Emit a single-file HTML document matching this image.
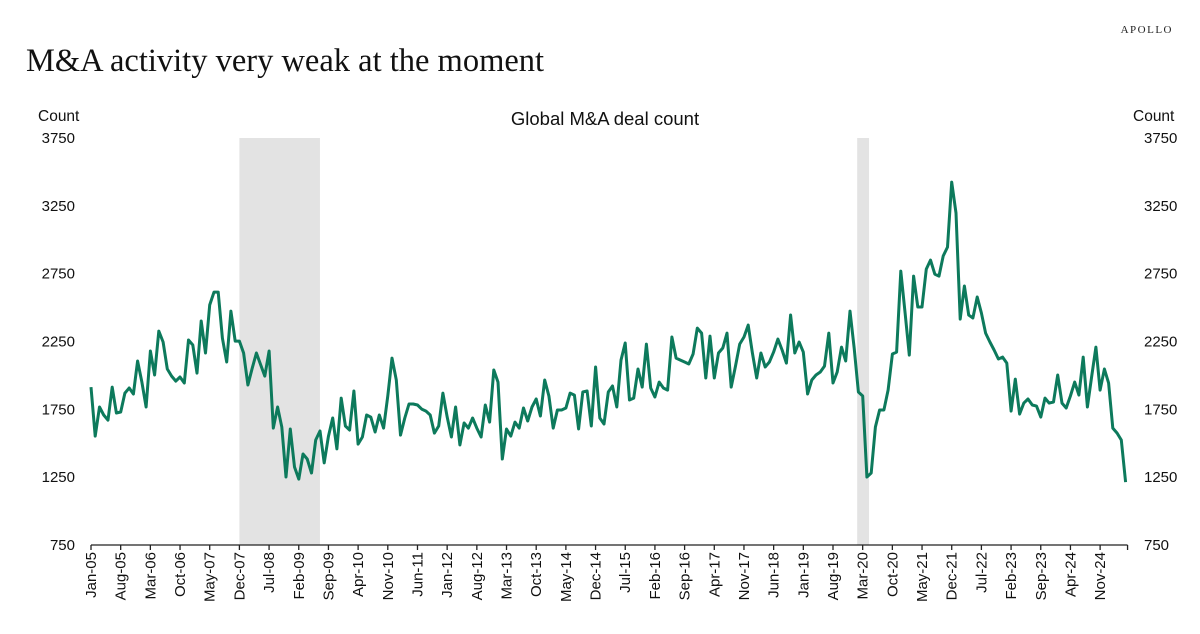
<!DOCTYPE html>
<html><head><meta charset="utf-8"><style>
body{margin:0;background:#fff;width:1200px;height:634px;overflow:hidden}
svg{display:block}
.sans{font-family:"Liberation Sans","DejaVu Sans",sans-serif}
.serif{font-family:"Liberation Serif",serif}
</style></head><body>
<svg id="chart" width="1200" height="634">
<text x="1173" y="33" text-anchor="end" class="serif" font-size="11" letter-spacing="1.5" fill="#222">APOLLO</text>
<text x="26" y="71" class="serif" font-size="32.5" fill="#111">M&amp;A activity very weak at the moment</text>
<text x="38" y="121" class="sans" font-size="15.5" fill="#111">Count</text>
<text x="1133" y="121" class="sans" font-size="15.5" fill="#111">Count</text>
<text x="605" y="125" text-anchor="middle" class="sans" font-size="18.5" fill="#111">Global M&amp;A deal count</text>
<g id="shade"></g><g id="yt"></g><g id="xt"></g><g id="ln"></g>
</svg>
<script>
const startLabel = "Jan-05";
const xTickLabels = ["Jan-05","Aug-05","Mar-06","Oct-06","May-07","Dec-07","Jul-08","Feb-09","Sep-09","Apr-10","Nov-10","Jun-11","Jan-12","Aug-12","Mar-13","Oct-13","May-14","Dec-14","Jul-15","Feb-16","Sep-16","Apr-17","Nov-17","Jun-18","Jan-19","Aug-19","Mar-20","Oct-20","May-21","Dec-21","Jul-22","Feb-23","Sep-23","Apr-24","Nov-24"];
const yTicks = [750,1250,1750,2250,2750,3250,3750];
const recessionStart = [35,180.7];
const recessionEnd = [54,183.5];
const dealCount = [
1914,1553,1767,1708,1671,1914,1723,1730,1870,1907,1863,2106,1950,1767,2180,2003,2327,2246,2047,1995,1958,1988,1944,2261,2224,2017,2401,2165,2519,2614,2614,2275,2099,2474,2253,2253,2165,1929,2050,2165,2080,1995,2180,1612,1767,1620,1251,1605,1325,1236,1421,1384,1281,1524,1590,1355,1550,1686,1458,1833,
1627,1597,1885,1494,1546,1708,1693,1583,1708,1612,1850,2128,1966,1560,1686,1789,1789,1782,1752,1737,1708,1575,1627,1870,1693,1546,1767,1487,1649,1612,1686,1612,1546,1782,1656,2040,1951,1384,1605,1553,1656,1612,1760,1664,1767,1826,1701,1966,1848,1612,1745,1745,1760,1870,1855,1605,1878,1885,
1627,2062,1686,1642,1878,1922,1767,2113,2239,1819,1833,2047,1914,2231,1907,1841,1951,1907,1892,2283,2128,2113,2099,2084,2158,2349,2312,1981,2290,1981,2165,2202,2312,1914,2069,2231,2283,2371,2165,1981,2165,2062,2099,2172,2268,2187,2091,2445,2165,2246,2172,1863,1966,2003,2025,2069,2312,1944,2025,2209,2106,2474,2200,1878,1848,
1251,1281,1620,1745,1745,1892,2158,2172,2769,2460,2150,2732,2504,2504,2784,2850,2747,2732,2880,2946,3425,3197,2415,2659,2445,2423,2578,2460,2312,2246,2187,2121,2135,2091,1737,1973,1715,1796,1826,1782,1774,1693,1833,1796,1804,2003,1796,1760,1848,1951,1855,2135,1767,1988,2209,1892,2047,1944,1612,1575,1524,1214];

const NS="http://www.w3.org/2000/svg";
const X0=91, DX=4.24, Y0=545, Y1=138;
const xs=m=>X0+m*DX;
const ys=v=>Y0-(v-750)/3000*(Y0-Y1);
function mk(t,a,p){const e=document.createElementNS(NS,t);for(const k in a)e.setAttribute(k,a[k]);p.appendChild(e);return e;}
const sh=document.getElementById('shade');
recessionStart.forEach((s,i)=>{
  const r=mk('rect',{x:xs(s),y:Y1,width:xs(recessionEnd[i])-xs(s),height:Y0-Y1,fill:'#e3e3e3'},sh);
  
  
});
const yt=document.getElementById('yt');
yTicks.forEach(v=>{
  const a=mk('text',{x:75,y:ys(v)+5,'text-anchor':'end','font-size':15,class:'sans',fill:'#111'},yt);a.textContent=v;
  
  
  const b=mk('text',{x:1144,y:ys(v)+5,'font-size':15,class:'sans',fill:'#111'},yt);b.textContent=v;
  
  
});
const xt=document.getElementById('xt');
const n=dealCount.length;
const ax=mk('line',{x1:X0,y1:Y0,x2:xs(n-1)+2,y2:Y0,stroke:'#222','stroke-width':1.3},xt);


xTickLabels.forEach((l,i)=>{
  const x=xs(i*7);
  const t=mk('line',{x1:x,y1:Y0,x2:x,y2:Y0+5,stroke:'#222','stroke-width':1.3},xt);
  
  
  const tx=mk('text',{x:0,y:0,transform:`translate(${x+5},552) rotate(-90)`,'text-anchor':'end','font-size':15,class:'sans',fill:'#111'},xt);
  tx.textContent=l;
  
  
});
const endTick=mk('line',{x1:xs(n-1)+2,y1:Y0,x2:xs(n-1)+2,y2:Y0+5,stroke:'#222','stroke-width':1.3},xt);


const pts=dealCount.map((v,i)=>xs(i).toFixed(1)+','+ys(v).toFixed(1)).join(' ');
const pl=mk('polyline',{points:pts,fill:'none',stroke:'#0d7a5c','stroke-width':3,'stroke-linejoin':'round'},document.getElementById('ln'));


</script>
</body></html>
